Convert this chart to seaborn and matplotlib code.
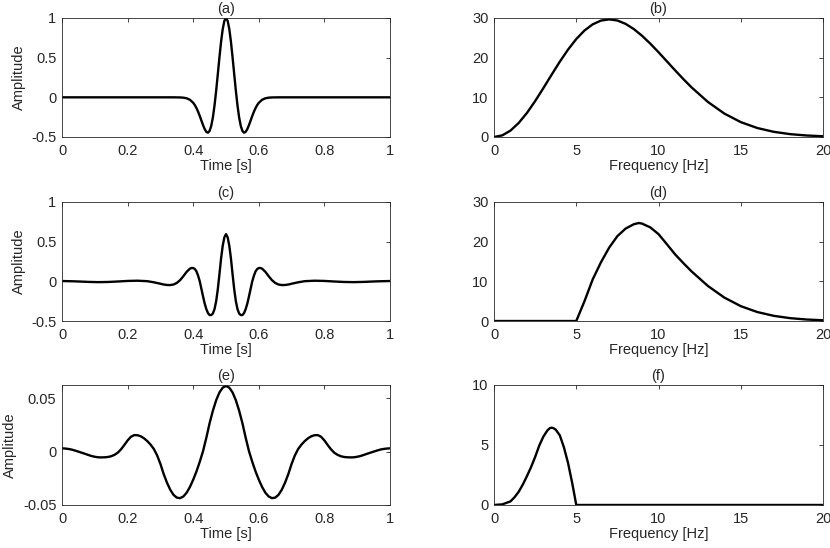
import numpy as np
import matplotlib
matplotlib.use("Agg")
import matplotlib.pyplot as plt
import matplotlib.ticker as mticker
import seaborn as sns

# (a) Ricker wavelet, time domain
time_a = [0.0, 0.34, 0.36, 0.37, 0.38, 0.39, 0.40, 0.405, 0.41, 0.415, 0.42, 0.425, 0.43, 0.435,
          0.44, 0.445, 0.45, 0.455, 0.46, 0.465, 0.47, 0.475, 0.48, 0.485, 0.49, 0.495, 0.50,
          0.505, 0.51, 0.515, 0.52, 0.525, 0.53, 0.535, 0.54, 0.545, 0.55, 0.555, 0.56, 0.565,
          0.57, 0.575, 0.58, 0.585, 0.59, 0.595, 0.60, 0.61, 0.62, 0.63, 0.64, 0.66, 1.0]
amp_a = [0.0, 0.0, -0.0014, -0.0043, -0.0122, -0.0308, -0.0689, -0.0984, -0.136, -0.182, -0.235,
         -0.293, -0.350, -0.400, -0.435, -0.446, -0.423, -0.360, -0.253, -0.102, 0.084, 0.292,
         0.505, 0.702, 0.861, 0.964, 1.0,
         0.964, 0.861, 0.702, 0.505, 0.292, 0.084, -0.102, -0.253, -0.360, -0.423, -0.446,
         -0.435, -0.400, -0.350, -0.293, -0.235, -0.182, -0.136, -0.0984, -0.0689, -0.0308,
         -0.0122, -0.0043, -0.0014, 0.0, 0.0]

# (b) amplitude spectrum of (a)
freq_b = [0, 0.5, 1, 1.5, 2, 2.5, 3, 3.5, 4, 4.5, 5, 5.5, 6, 6.5, 7, 7.5, 8, 8.5, 9, 9.5, 10,
          10.5, 11, 11.5, 12, 13, 14, 15, 16, 17, 18, 19, 20]
spec_b = [0, 0.41, 1.61, 3.54, 6.06, 9.05, 12.32, 15.69, 18.99, 22.03, 24.69, 26.84, 28.40,
          29.34, 29.65, 29.36, 28.51, 27.20, 25.51, 23.53, 21.37, 19.11, 16.84, 14.64, 12.54,
          8.84, 5.91, 3.75, 2.27, 1.31, 0.72, 0.38, 0.19]

# (c) high-passed wavelet
time_c = [0.0, 0.04, 0.08, 0.11, 0.14, 0.17, 0.20, 0.23, 0.26, 0.28, 0.30, 0.31, 0.32, 0.33,
          0.34, 0.35, 0.36, 0.37, 0.38, 0.39, 0.395, 0.40, 0.405, 0.41, 0.415, 0.42, 0.425,
          0.43, 0.435, 0.44, 0.445, 0.45, 0.455, 0.46, 0.465, 0.47, 0.475, 0.48, 0.485, 0.49,
          0.495, 0.50,
          0.505, 0.51, 0.515, 0.52, 0.525, 0.53, 0.535, 0.54, 0.545, 0.55, 0.555, 0.56, 0.565,
          0.57, 0.575, 0.58, 0.585, 0.59, 0.595, 0.60, 0.605, 0.61, 0.62, 0.63, 0.64, 0.65,
          0.66, 0.67, 0.68, 0.69, 0.70, 0.72, 0.74, 0.77, 0.80, 0.83, 0.86, 0.89, 0.92, 0.96, 1.0]
amp_c = [0.004, 0.0, -0.007, -0.010, -0.008, -0.002, 0.005, 0.008, 0.002, -0.012, -0.030,
         -0.040, -0.046, -0.047, -0.040, -0.020, 0.015, 0.065, 0.120, 0.160, 0.168, 0.168,
         0.155, 0.125, 0.070, 0.0, -0.095, -0.190, -0.280, -0.350, -0.400, -0.425, -0.425,
         -0.405, -0.350, -0.250, -0.100, 0.090, 0.290, 0.450, 0.555, 0.595,
         0.555, 0.450, 0.290, 0.090, -0.100, -0.250, -0.350, -0.405, -0.425, -0.425, -0.400,
         -0.350, -0.280, -0.190, -0.095, 0.0, 0.070, 0.125, 0.155, 0.168, 0.168, 0.160, 0.120,
         0.065, 0.015, -0.020, -0.040, -0.047, -0.046, -0.040, -0.030, -0.012, 0.002, 0.008,
         0.005, -0.002, -0.008, -0.010, -0.007, 0.0, 0.004]

# (d) spectrum of (c)
freq_d = [0, 5, 5.5, 6, 6.5, 7, 7.5, 8, 8.5, 8.8, 9, 9.5, 10, 10.5, 11, 11.5, 12, 13, 14, 15,
          16, 17, 18, 19, 20]
spec_d = [0, 0, 5.0, 10.5, 14.8, 18.5, 21.4, 23.3, 24.4, 24.7, 24.55, 23.6, 21.9, 19.4, 16.84,
          14.64, 12.54, 8.84, 5.91, 3.75, 2.27, 1.31, 0.72, 0.38, 0.19]

# (e) low-passed wavelet, sampled every 0.01 s
time_e = np.linspace(0, 1, 101)
amp_e = [0.0031, 0.0029, 0.0025, 0.0019, 0.0010, 0.0000, -0.0010, -0.0020, -0.0031, -0.0041,
         -0.0048, -0.0053, -0.0054, -0.0053, -0.0050, -0.0043, -0.0030, -0.0010, 0.0022,
         0.0062, 0.0105, 0.0139, 0.0155, 0.0154, 0.0144, 0.0125, 0.0099, 0.0066, 0.0025,
         -0.0035, -0.0115, -0.0210, -0.0291, -0.0357, -0.0405, -0.0431, -0.0436, -0.0420,
         -0.0385, -0.0331, -0.0263, -0.0185, -0.0095, 0.0005, 0.0130, 0.0267, 0.0384, 0.0482,
         0.0555, 0.0600, 0.0616,
         0.0600, 0.0555, 0.0482, 0.0384, 0.0267, 0.0130, 0.0005, -0.0095, -0.0185, -0.0263,
         -0.0331, -0.0385, -0.0420, -0.0436, -0.0431, -0.0405, -0.0357, -0.0291, -0.0210,
         -0.0115, -0.0035, 0.0025, 0.0066, 0.0099, 0.0125, 0.0144, 0.0154, 0.0155, 0.0139,
         0.0105, 0.0062, 0.0022, -0.0010, -0.0030, -0.0043, -0.0050, -0.0053, -0.0054,
         -0.0053, -0.0048, -0.0041, -0.0031, -0.0020, -0.0010, 0.0000, 0.0010, 0.0019,
         0.0025, 0.0029, 0.0031]

# (f) spectrum of (e)
freq_f = [0, 0.5, 1, 1.25, 1.5, 1.75, 2, 2.25, 2.5, 2.75, 3, 3.25, 3.4, 3.5, 3.6, 3.75, 4,
          4.25, 4.5, 4.75, 5, 20]
spec_f = [0, 0.05, 0.3, 0.65, 1.1, 1.7, 2.4, 3.15, 4.0, 4.95, 5.7, 6.22, 6.41, 6.44, 6.41,
          6.28, 5.8, 4.8, 3.5, 1.85, 0, 0]

time_ticks = [0, 0.2, 0.4, 0.6, 0.8, 1]
freq_ticks = [0, 5, 10, 15, 20]


def style_axis(ax, title, xlabel, xticks, ylim, yticks, ylabel=None):
    ax.set_title(title, fontsize=10.5, pad=3.5)
    ax.set_xlabel(xlabel, fontsize=10.5, labelpad=0.5)
    if ylabel:
        ax.set_ylabel(ylabel, fontsize=10.5, labelpad=4)
    else:
        ax.set_ylabel("")
    ax.set_xlim(xticks[0], xticks[-1])
    ax.set_ylim(*ylim)
    ax.set_xticks(xticks)
    ax.set_yticks(yticks)
    fmt = mticker.FuncFormatter(lambda v, p: "%g" % v)
    ax.xaxis.set_major_formatter(fmt)
    ax.yaxis.set_major_formatter(fmt)
    ax.tick_params(direction="in", length=3, width=0.6, top=True, right=True,
                   labelsize=10.5, colors="#262626")
    ax.tick_params(axis="x", pad=5)
    ax.tick_params(axis="y", pad=4)
    for sp in ax.spines.values():
        sp.set_visible(True)
        sp.set_linewidth(0.6)
        sp.set_color("#262626")


def main():
    sns.set_theme(style="white")
    plt.rcParams["font.family"] = ["Liberation Sans", "DejaVu Sans"]

    fig = plt.figure(figsize=(8.3, 5.48), dpi=100)
    lefts = [0.0747, 0.5952]
    widths = [0.3952, 0.3964]
    bottoms = [0.750, 0.4142, 0.0785]
    heights = [0.2172, 0.2172, 0.219]

    panels = [
        (time_a, amp_a, "(a)", "Time [s]", time_ticks, (-0.5, 1), [-0.5, 0, 0.5, 1], "Amplitude"),
        (freq_b, spec_b, "(b)", "Frequency [Hz]", freq_ticks, (0, 30), [0, 10, 20, 30], None),
        (time_c, amp_c, "(c)", "Time [s]", time_ticks, (-0.5, 1), [-0.5, 0, 0.5, 1], "Amplitude"),
        (freq_d, spec_d, "(d)", "Frequency [Hz]", freq_ticks, (0, 30), [0, 10, 20, 30], None),
        (time_e, amp_e, "(e)", "Time [s]", time_ticks, (-0.05, 0.0625), [-0.05, 0, 0.05], "Amplitude"),
        (freq_f, spec_f, "(f)", "Frequency [Hz]", freq_ticks, (0, 10), [0, 5, 10], None),
    ]

    for i, (x, y, title, xlabel, xticks, ylim, yticks, ylabel) in enumerate(panels):
        row, col = divmod(i, 2)
        ax = fig.add_axes([lefts[col], bottoms[row], widths[col], heights[row]])
        sns.lineplot(x=list(x), y=y, ax=ax, color="black", linewidth=1.7)
        style_axis(ax, title, xlabel, xticks, ylim, yticks, ylabel)

    fig.savefig("out.png", dpi=100)


if __name__ == "__main__":
    main()
